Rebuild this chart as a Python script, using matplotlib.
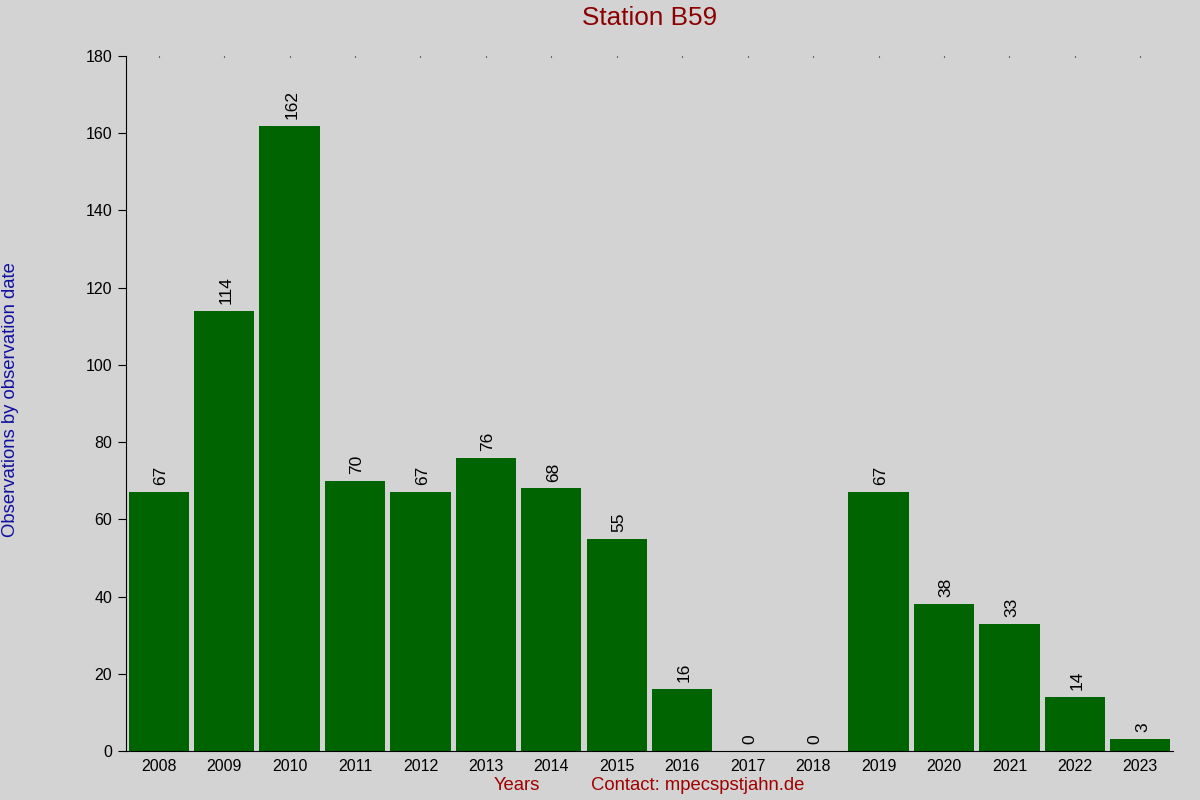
import matplotlib
matplotlib.use('Agg')
import matplotlib.pyplot as plt

# data
years = ['2008', '2009', '2010', '2011', '2012', '2013', '2014', '2015',
         '2016', '2017', '2018', '2019', '2020', '2021', '2022', '2023']
counts = [67, 114, 162, 70, 67, 76, 68, 55, 16, 0, 0, 67, 38, 33, 14, 3]
y_ticks = [0, 20, 40, 60, 80, 100, 120, 140, 160, 180]

plt.rcParams['font.family'] = ['Liberation Sans', 'DejaVu Sans']

bg = '#d3d3d3'
fig = plt.figure(figsize=(12, 8), dpi=100, facecolor=bg)
ax = fig.add_axes([0.105, 0.06125, 0.8725, 0.86875], facecolor=bg)

x = list(range(len(years)))
bars = ax.bar(x, counts, width=0.92, color='#006400')

# value labels above bars
for xi, v in zip(x, counts):
    ax.annotate(str(v), (xi, v), xytext=(1.5, 5), textcoords='offset points',
                rotation=90, ha='center', va='bottom', fontsize=12.5, color='black')

ax.set_xlim(-0.5, len(years) - 0.5)
ax.set_ylim(0, 180)
ax.set_yticks(y_ticks)
ax.set_xticks(x)
ax.set_xticklabels(years)

for s in ['top', 'right']:
    ax.spines[s].set_visible(False)
ax.spines['left'].set_bounds(0, 180)

ax.tick_params(axis='y', direction='out', length=6, labelsize=11.5, pad=4)
ax.tick_params(axis='x', bottom=False, top=True, direction='in', length=1,
               labelsize=11.5, pad=6)

fig.text(0.541, 0.977, 'Station B59', color='#8b0000', fontsize=18.8,
         ha='center', va='center')
fig.text(0.002, 0.5, 'Observations by observation date', rotation=90,
         color='#1010a0', fontsize=13.3, ha='left', va='center')
fig.text(0.431, 0.0175, 'Years', color='#a00000', fontsize=13.3, ha='center', va='center')
fig.text(0.5817, 0.0175, 'Contact: mpecspstjahn.de', color='#a00000', fontsize=13.3,
         ha='center', va='center')

fig.savefig('out.png', dpi=100, facecolor=bg)
